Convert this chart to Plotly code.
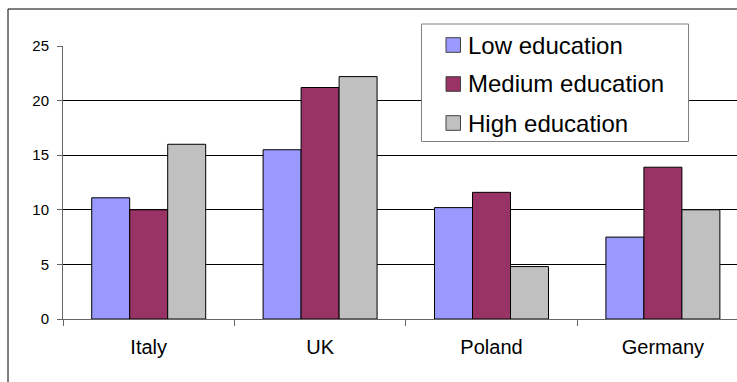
import plotly.graph_objects as go

# Share of respondents by education level (percent)
countries = ["Italy", "UK", "Poland", "Germany"]
series_names = ["Low education", "Medium education", "High education"]
low_edu = [11.1, 15.5, 10.2, 7.5]
medium_edu = [10.0, 21.2, 11.6, 13.9]
high_edu = [16.0, 22.2, 4.8, 10.0]
series_colors = ["#9999FF", "#993366", "#C0C0C0"]
y_ticks = [0, 5, 10, 15, 20, 25]

W, H = 737, 382
M_L, M_R, M_T, M_B = 63, 0, 46, 63
PLOT_W = W - M_L - M_R
PLOT_H = H - M_T - M_B
CAT_W = 171.4  # pixel width of one category slot

FONT = "Arial, Liberation Sans, sans-serif"


def px_x(px):
    return (px - M_L) / PLOT_W


def px_y(py):
    return (H - M_B - py) / PLOT_H


fig = go.Figure()
for name, vals, col in zip(series_names, [low_edu, medium_edu, high_edu], series_colors):
    fig.add_trace(go.Bar(
        x=countries, y=vals, name=name,
        marker=dict(color=col, line=dict(color="#000000", width=1)),
        showlegend=False,
    ))

fig.update_layout(
    width=W, height=H,
    margin=dict(l=M_L, r=M_R, t=M_T, b=M_B, pad=0),
    paper_bgcolor="white", plot_bgcolor="white",
    barmode="group", bargap=0.335, bargroupgap=0,
    font=dict(family=FONT, color="#000000"),
)

fig.update_xaxes(
    type="category",
    range=[-0.5, -0.5 + PLOT_W / CAT_W],
    showline=True, linecolor="#666666", linewidth=1,
    ticks="outside", ticklen=6, tickcolor="#666666", tickson="boundaries",
    tickfont=dict(size=20, family=FONT),
    showgrid=False, zeroline=False,
    ticklabelstandoff=10,
)
fig.update_yaxes(
    range=[0, 25], tickvals=y_ticks,
    showline=True, linecolor="#666666", linewidth=1,
    ticks="outside", ticklen=5, tickcolor="#666666",
    tickfont=dict(size=15, family=FONT),
    showgrid=True, gridcolor="#000000", gridwidth=1,
    zeroline=False,
    ticklabelstandoff=5,
)

shapes = []
# chart frame
shapes.append(dict(type="rect", xref="paper", yref="paper",
                   x0=px_x(8), x1=px_x(W + 20), y0=px_y(H + 20), y1=px_y(9),
                   line=dict(color="#000000", width=1), fillcolor="rgba(0,0,0,0)",
                   layer="above"))
# legend box
shapes.append(dict(type="rect", xref="paper", yref="paper",
                   x0=px_x(421.5), x1=px_x(688.5), y0=px_y(141.5), y1=px_y(24),
                   line=dict(color="#808080", width=1), fillcolor="white",
                   layer="above"))

annotations = []
row_centers = [45, 84, 123]
for name, col, cy in zip(series_names, series_colors, row_centers):
    shapes.append(dict(type="rect", xref="paper", yref="paper",
                       x0=px_x(446), x1=px_x(460.5), y0=px_y(cy + 7.3), y1=px_y(cy - 7.3),
                       line=dict(color="#404040", width=1), fillcolor=col,
                       layer="above"))
    annotations.append(dict(xref="paper", yref="paper", x=px_x(466), y=px_y(cy),
                            xanchor="left", yanchor="middle", showarrow=False,
                            text=name, font=dict(size=24, family=FONT, color="#000000")))

fig.update_layout(shapes=shapes, annotations=annotations)

fig.write_html("out.html")
